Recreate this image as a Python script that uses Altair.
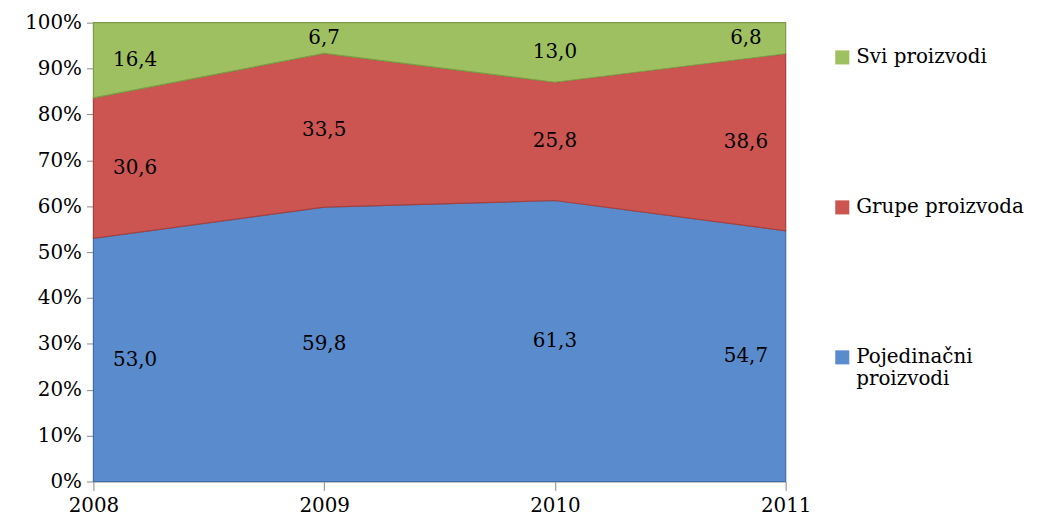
import altair as alt
import pandas as pd

years = ["2008", "2009", "2010", "2011"]
series = ["Pojedinačni proizvodi", "Grupe proizvoda", "Svi proizvodi"]
pojedinacni = [53.0, 59.8, 61.3, 54.7]
grupe = [30.6, 33.5, 25.8, 38.6]
svi = [16.4, 6.7, 13.0, 6.8]
colors = ["#5A8BCC", "#CC5552", "#9FC060"]
strokes = ["#3F6FA8", "#A8403D", "#7E9C45"]

rows = []
for s_i, (name, vals) in enumerate(zip(series, [pojedinacni, grupe, svi])):
    for y, v in zip(years, vals):
        rows.append({"year": y, "series": name, "value": v, "order": s_i,
                     "label": f"{v:.1f}".replace(".", ",")})
df = pd.DataFrame(rows)

FONT = "DejaVu Serif"
FS = 20

xenc = alt.X("year:O", title=None,
             scale=alt.Scale(padding=0),
             axis=alt.Axis(labelAngle=0, labelFontSize=FS, labelFont=FONT, labelColor="black",
                           domainColor="#888888", tickColor="#888888", tickSize=9,
                           labelPadding=5))

leg_domain = list(reversed(series))
leg_colors = list(reversed(colors))
leg_strokes = list(reversed(strokes))

area = alt.Chart(df).mark_area(strokeWidth=1.2, opacity=1).encode(
    x=xenc,
    y=alt.Y("value:Q", stack="normalize", title=None,
            scale=alt.Scale(domain=[0, 1]),
            axis=alt.Axis(format=".0%", values=[i / 10 for i in range(11)], grid=False,
                          labelFontSize=FS, labelFont=FONT, labelColor="black",
                          domainColor="#888888", tickColor="#888888", tickSize=7,
                          labelPadding=5)),
    color=alt.Color("series:N",
                    scale=alt.Scale(domain=leg_domain, range=leg_colors),
                    legend=alt.Legend(title=None, orient="none", legendX=744, legendY=25,
                                      symbolType="square", symbolSize=200, symbolStrokeWidth=0,
                                      labelFont=FONT, labelFontSize=FS, labelColor="black",
                                      rowPadding=131, labelLimit=300, symbolOpacity=1,
                                      labelExpr="datum.label == 'Pojedinačni proizvodi' ? ['Pojedinačni', 'proizvodi'] : datum.label")),
    stroke=alt.Stroke("series:N", scale=alt.Scale(domain=leg_domain, range=leg_strokes), legend=None),
    order=alt.Order("order:Q"),
)

base_text = alt.Chart(df).transform_stack(
    stack="value", groupby=["year"], as_=["y0", "y1"],
    sort=[alt.SortField("order", order="ascending")], offset="normalize"
).transform_calculate(mid="(datum.y0 + datum.y1) / 2")

def text_layer(yrs, dx):
    return base_text.transform_filter(
        alt.FieldOneOfPredicate(field="year", oneOf=yrs)
    ).mark_text(font=FONT, fontSize=FS, color="black", dx=dx).encode(
        x=alt.X("year:O"),
        y=alt.Y("mid:Q"),
        text="label:N",
    )

texts = text_layer(["2008"], 42) + text_layer(["2009", "2010"], 0) + text_layer(["2011"], -40)

chart = alt.layer(area, texts).properties(
    width=697, height=462, background="white",
    padding={"left": 16, "top": 3, "right": 5, "bottom": 5}
).configure_view(stroke=None)

chart.save("out.html", embed_options={"renderer": "svg", "actions": False})
